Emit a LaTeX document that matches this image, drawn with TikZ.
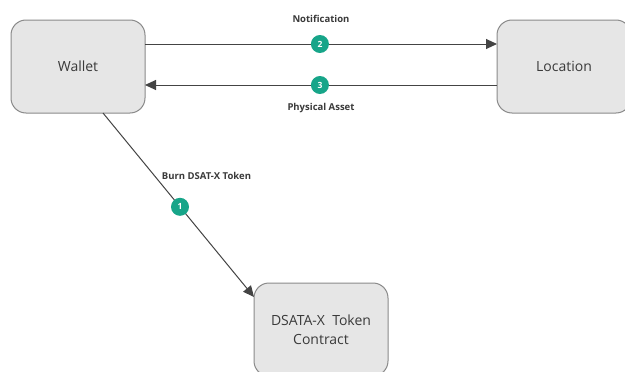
\documentclass[tikz,border=0pt]{standalone}
\usepackage{fontspec}
\setmainfont{Open Sans}
\usetikzlibrary{arrows.meta}
\definecolor{boxfill}{HTML}{E6E6E6}
\definecolor{boxline}{HTML}{8A8A8A}
\definecolor{lnk}{HTML}{444444}
\definecolor{badge}{HTML}{17A589}
\definecolor{txt}{HTML}{3A3A3A}
\begin{document}
\begin{tikzpicture}[x=1pt,y=-1pt,
  entity/.style={draw=boxline, line width=1pt, fill=boxfill, rounded corners=15pt,
    minimum width=134pt, minimum height=93pt, inner sep=0pt, align=center,
    font=\fontsize{14}{19}\selectfont, text=txt},
  conn/.style={draw=lnk, line width=1pt, -{Triangle[length=11pt,width=10pt]}},
  numbadge/.style={circle, fill=badge, minimum size=18pt, inner sep=0pt,
    text=white, font=\bfseries\fontsize{8.5}{9}\selectfont},
  lbl/.style={font=\bfseries\fontsize{9.5}{11}\selectfont, text=txt}]
\clip (0,0) rectangle (625,372);
\fill[white] (0,0) rectangle (625,372);
\node[entity] (wallet) at (78,66.5) {Wallet};
\node[entity] (location) at (564,66.5) {Location};
\node[entity] (contract) at (321,329.5) {DSATA-X\ \ Token\\Contract};
\coordinate (wA) at (145,44);
\coordinate (lA) at (497,44);
\coordinate (wB) at (145,85);
\coordinate (lB) at (497,85);
\coordinate (wC) at (103,113);
\coordinate (cC) at (254,297);
\draw[conn] (wA) -- (lA) node[pos=0.497, numbadge] (b2) {2};
\draw[conn] (lB) -- (wB) node[pos=0.503, numbadge] (b3) {3};
\draw[conn] (wC) -- (cC) node[pos=0.51, numbadge] (b1) {1};
\node[lbl] (l2) at (321,19) {Notification};
\node[lbl] (l3) at (321,108) {Physical Asset};
\node[lbl] (l1) at (206.5,176) {Burn DSAT-X Token};
\end{tikzpicture}
\end{document}
